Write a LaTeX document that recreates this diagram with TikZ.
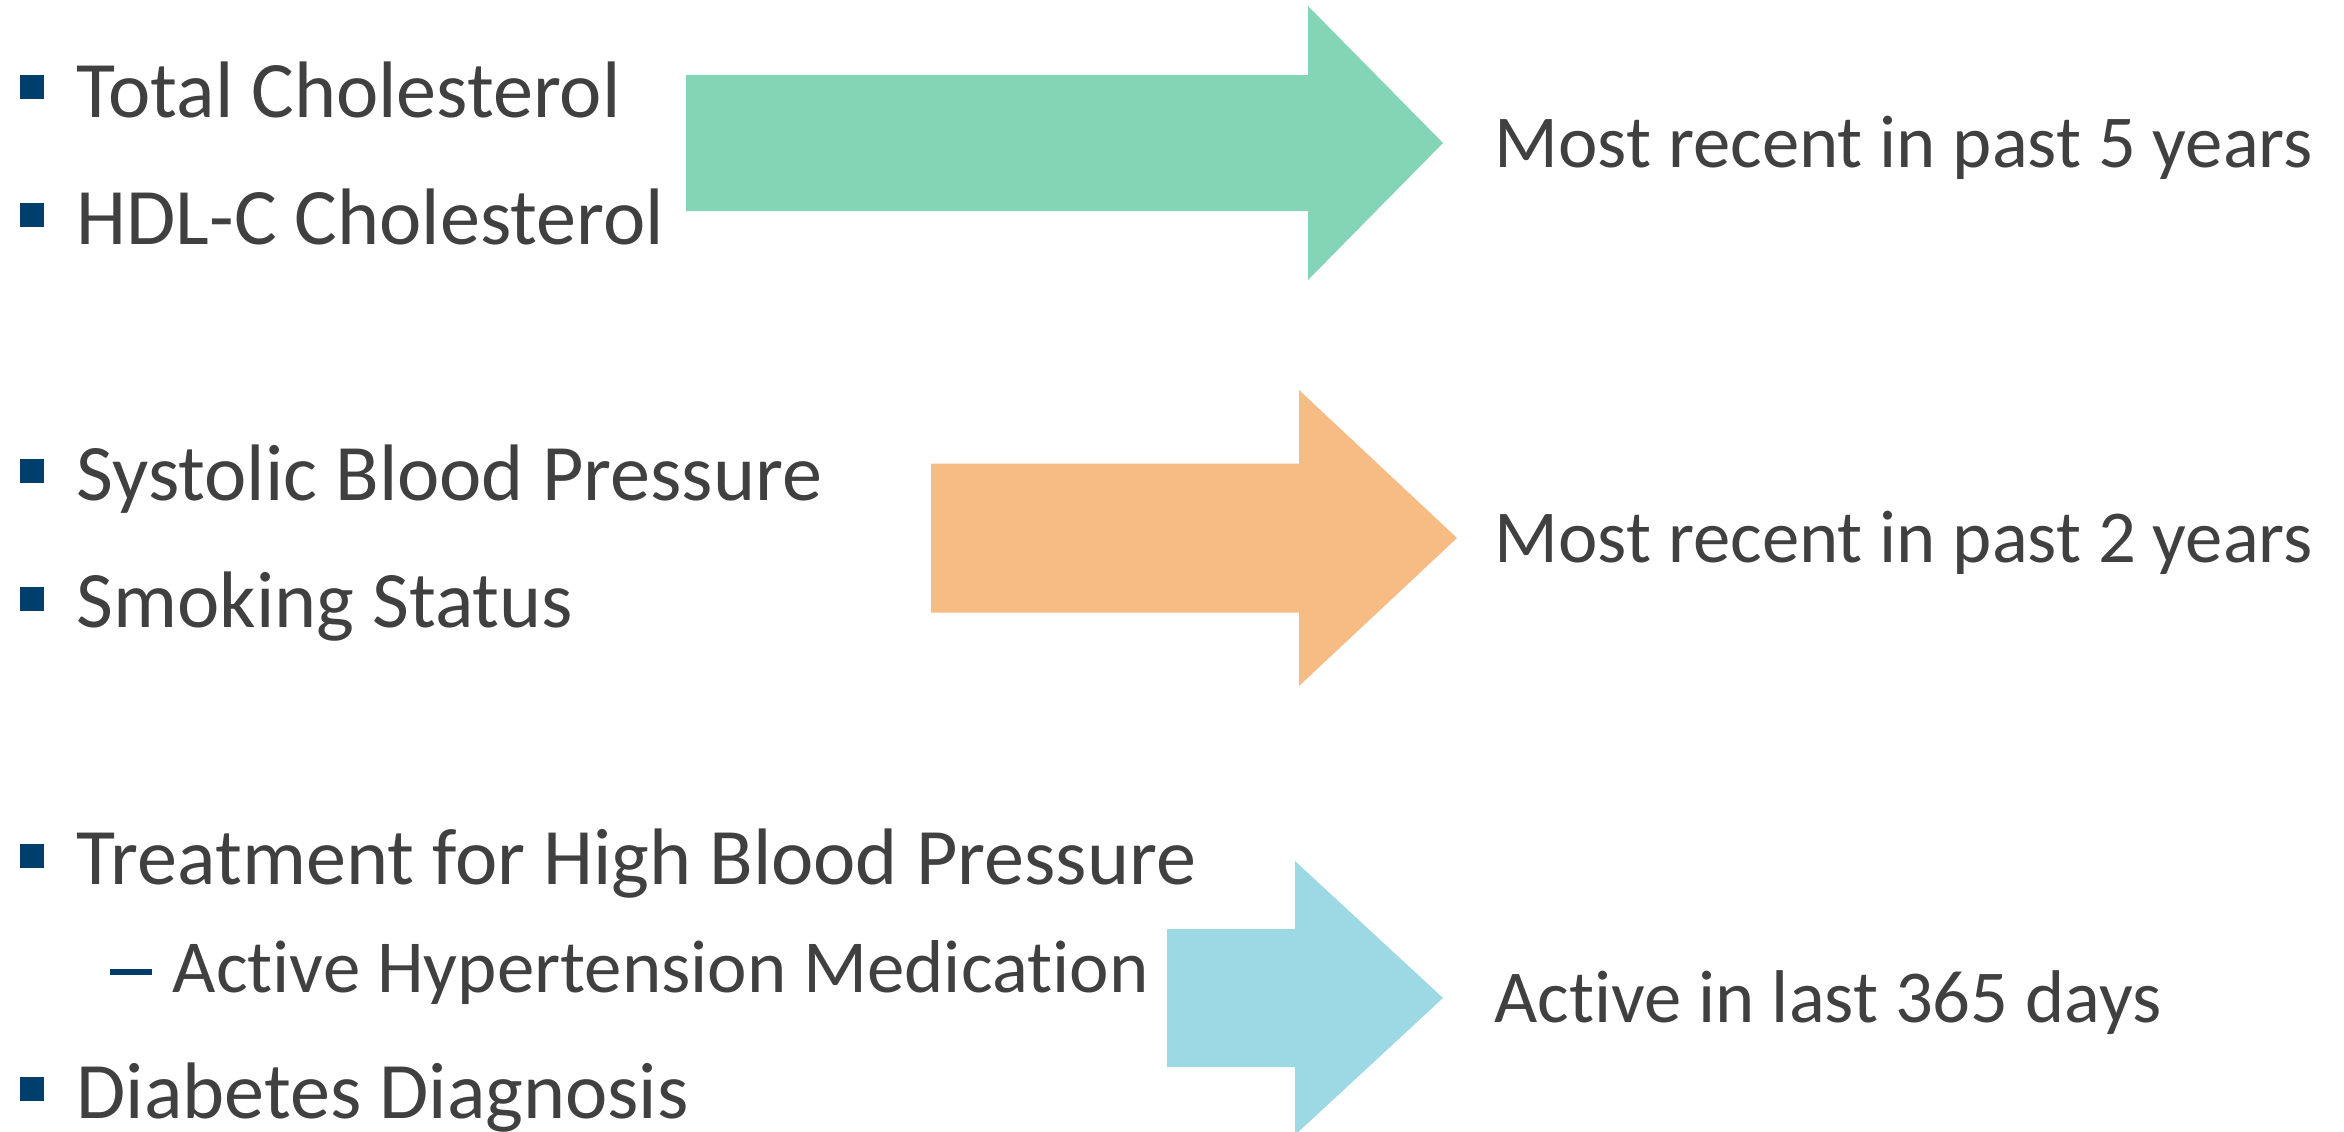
\documentclass[tikz,border=0pt]{standalone}
\usepackage{fontspec}
\setmainfont{Carlito}[Ligatures=NoCommon]
\usepackage{xcolor}
\usepackage{tikz}
\usetikzlibrary{positioning}

\definecolor{textgray}{HTML}{404040}
\definecolor{bulletblue}{HTML}{003F6B}
\definecolor{arrgreen}{HTML}{83D5B5}
\definecolor{arrorange}{HTML}{F6BC84}
\definecolor{arrblue}{HTML}{9DD8E5}

\begin{document}
\begin{tikzpicture}[
  item/.style={anchor=base west, inner sep=0pt, text=textgray,
               font=\fontsize{22.8}{27}\selectfont},
  subitem/.style={item, font=\fontsize{21.3}{25}\selectfont},
  period/.style={item, font=\fontsize{21.25}{25}\selectfont},
  bullet/.style={fill=bulletblue, inner sep=0pt, minimum size=0.24cm},
  subbullet/.style={fill=bulletblue, inner sep=0pt,
                    minimum width=0.42cm, minimum height=0.06cm},
]
\useasboundingbox (0,0) rectangle (23.44,-11.31);

%% --- Block arrows ---
\fill[arrgreen]  (6.86,-0.75) -- (13.08,-0.75) -- (13.08,-0.06) -- (14.43,-1.43)
  -- (13.08,-2.80) -- (13.08,-2.11) -- (6.86,-2.11) -- cycle;
\fill[arrorange] (9.31,-4.635) -- (12.99,-4.635) -- (12.99,-3.90) -- (14.57,-5.38)
  -- (12.99,-6.86) -- (12.99,-6.125) -- (9.31,-6.125) -- cycle;
\fill[arrblue]   (11.67,-9.29) -- (12.95,-9.29) -- (12.95,-8.61) -- (14.43,-9.98)
  -- (12.95,-11.35) -- (12.95,-10.67) -- (11.67,-10.67) -- cycle;

%% --- Bullets ---
\node[bullet] (b1) at (0.32,-0.87)  {};
\node[bullet] (b2) at (0.32,-2.15)  {};
\node[bullet] (b3) at (0.32,-4.71)  {};
\node[bullet] (b4) at (0.32,-5.99)  {};
\node[bullet] (b5) at (0.32,-8.56)  {};
\node[subbullet] (s1) at (1.31,-9.72) {};
\node[bullet] (b6) at (0.32,-10.89) {};

%% --- Items ---
\node[item] (chol)  at (0.76,-1.17)  {Total Cholesterol};
\node[item] (hdl)   at (0.76,-2.44)  {HDL-C Cholesterol};
\node[item] (sbp)   at (0.76,-5.00)  {Systolic Blood Pressure};
\node[item] (smoke) at (0.76,-6.27)  {Smoking Status};
\node[item] (treat) at (0.76,-8.84)  {Treatment for High Blood Pressure};
\node[subitem] (meds) at (1.72,-9.92) {Active Hypertension Medication};
\node[item] (diab)  at (0.76,-11.18) {Diabetes Diagnosis};

%% --- Look-back periods ---
\node[period] (five)   at (14.94,-1.67)  {Most recent in past 5 years};
\node[period] (two)    at (14.94,-5.62)  {Most recent in past 2 years};
\node[period] (active) at (14.94,-10.22) {Active in last 365 days};

\end{tikzpicture}
\end{document}
